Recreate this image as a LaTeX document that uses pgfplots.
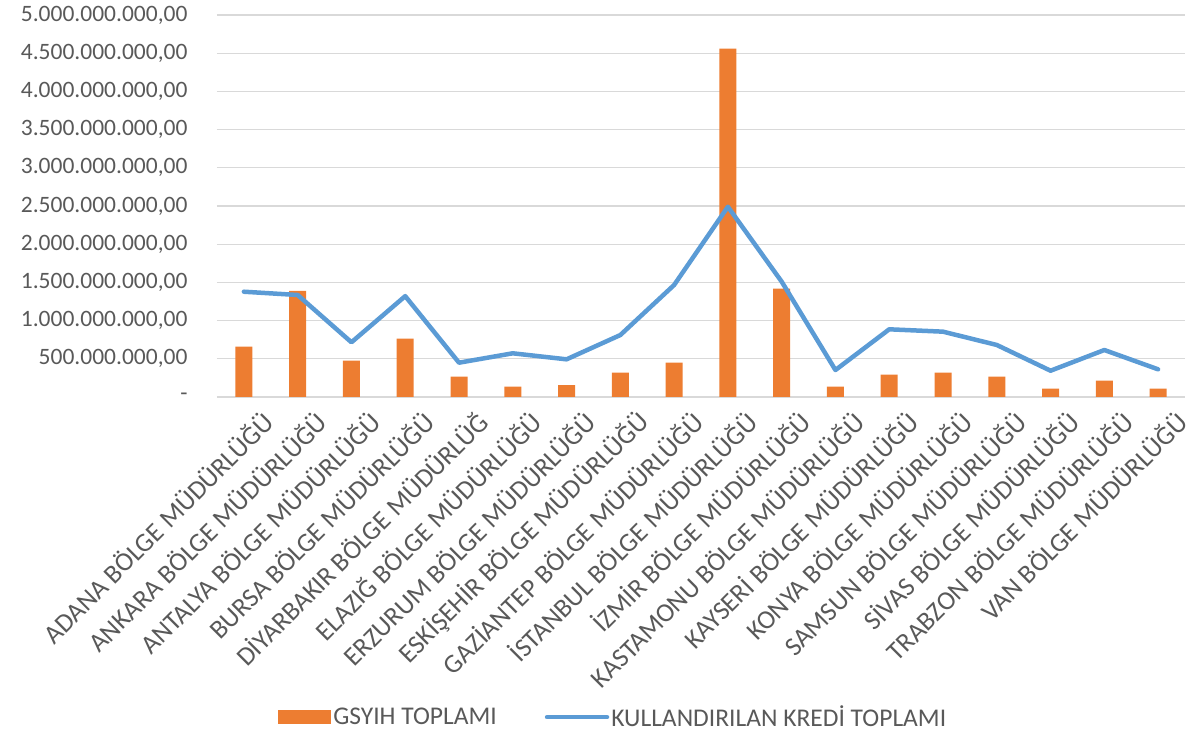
\documentclass[border=0pt]{standalone}
\usepackage{pgfplots}
\pgfplotsset{compat=1.18}
\usepackage{fontspec}
\setmainfont{Carlito}
\definecolor{barorange}{HTML}{ED7D31}
\definecolor{lineblue}{HTML}{5B9BD5}
\definecolor{txtgray}{HTML}{595959}
\definecolor{gridgray}{HTML}{D9D9D9}
\begin{document}
\begin{tikzpicture}
\useasboundingbox (0,0) rectangle (1192pt,733pt);
\begin{axis}[
  at={(217pt,336pt)}, anchor=south west,
  scale only axis, width=968pt, height=382pt,
  xmin=-0.5, xmax=17.5, ymin=0, ymax=5000000000,
  axis line style={draw=none}, major tick style={draw=none},
  ymajorgrids, grid style={gridgray, line width=1.3pt},
  scaled y ticks=false,
  ytick={0,500000000,1000000000,1500000000,2000000000,2500000000,3000000000,3500000000,4000000000,4500000000,5000000000},
  yticklabels={-\hspace{16pt},{500.000.000,00},{1.000.000.000,00},{1.500.000.000,00},{2.000.000.000,00},{2.500.000.000,00},{3.000.000.000,00},{3.500.000.000,00},{4.000.000.000,00},{4.500.000.000,00},{5.000.000.000,00}},
  yticklabel style={font=\fontsize{23.5}{27}\selectfont, text=txtgray, anchor=east, xshift=-26pt},
  xtick={0,...,17},
  xticklabels={ADANA BÖLGE MÜDÜRLÜĞÜ, ANKARA BÖLGE MÜDÜRLÜĞÜ, ANTALYA BÖLGE MÜDÜRLÜĞÜ, BURSA BÖLGE MÜDÜRLÜĞÜ, DİYARBAKIR BÖLGE MÜDÜRLÜĞ, ELAZIĞ BÖLGE MÜDÜRLÜĞÜ, ERZURUM BÖLGE MÜDÜRLÜĞÜ, ESKİŞEHİR BÖLGE MÜDÜRLÜĞÜ, GAZİANTEP BÖLGE MÜDÜRLÜĞÜ, İSTANBUL BÖLGE MÜDÜRLÜĞÜ, İZMİR BÖLGE MÜDÜRLÜĞÜ, KASTAMONU BÖLGE MÜDÜRLÜĞÜ, KAYSERİ BÖLGE MÜDÜRLÜĞÜ, KONYA BÖLGE MÜDÜRLÜĞÜ, SAMSUN BÖLGE MÜDÜRLÜĞÜ, SİVAS BÖLGE MÜDÜRLÜĞÜ, TRABZON BÖLGE MÜDÜRLÜĞÜ, VAN BÖLGE MÜDÜRLÜĞÜ},
  xticklabel style={font=\fontsize{26.5}{30}\selectfont, text=txtgray, rotate=45, anchor=east, xshift=6pt, yshift=-31pt},
  legend style={at={(0.06,-0.838)}, anchor=west, draw=none, fill=none, legend columns=2,
    font=\fontsize{25.5}{29}\selectfont, text=txtgray,
    /tikz/every even column/.append style={column sep=46pt}},
  legend cell align=left,
]
\addplot[ybar, bar width=17pt, fill=barorange, draw=none,
  legend image code/.code={\fill[barorange] (0pt,-7pt) rectangle (53pt,7pt);}]
coordinates {
(0,658000000) (1,1390000000) (2,475000000) (3,763000000) (4,266000000) (5,135000000)
(6,157000000) (7,318000000) (8,449000000) (9,4560000000) (10,1420000000) (11,135000000)
(12,292000000) (13,318000000) (14,266000000) (15,109000000) (16,213000000) (17,109000000)
};
\addlegendentry{GSYIH TOPLAMI}
\addplot[sharp plot, lineblue, line width=4.5pt, line join=round, line cap=round,
  legend image code/.code={\draw[lineblue, line width=4.5pt, line cap=round] (2pt,0pt) -- (62pt,0pt);}]
coordinates {
(0,1378000000) (1,1335000000) (2,716000000) (3,1320000000) (4,449000000) (5,572000000)
(6,493000000) (7,811000000) (8,1466000000) (9,2490000000) (10,1510000000) (11,353000000)
(12,886000000) (13,855000000) (14,681000000) (15,344000000) (16,615000000) (17,362000000)
};
\addlegendentry{KULLANDIRILAN KREDİ TOPLAMI}
\end{axis}
\end{tikzpicture}
\end{document}
